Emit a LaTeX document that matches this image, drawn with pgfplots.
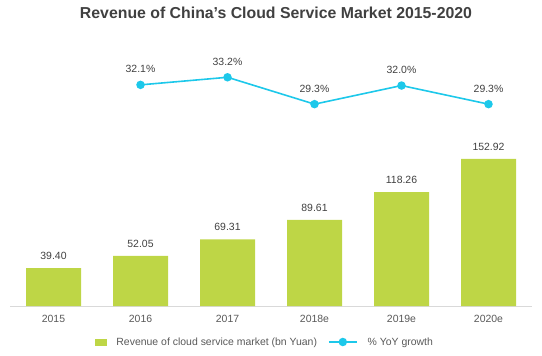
\documentclass[border=0pt]{standalone}
\usepackage{fontspec}
\setmainfont{Liberation Sans}
\usepackage{pgfplots}
\pgfplotsset{compat=1.18}
\definecolor{barc}{HTML}{BED646}
\definecolor{linec}{HTML}{1DC8EA}
\definecolor{txt}{HTML}{404040}
\definecolor{tickc}{HTML}{595959}
\definecolor{basec}{HTML}{D9D9D9}
\pgfplotsset{
  barlegend/.style={legend image code/.code={\fill[barc] (0bp,-2.8bp) rectangle (11bp,2.8bp);}},
  linelegend/.style={legend image code/.code={\draw[##1, mark repeat=2, mark phase=2] plot coordinates {(0bp,0bp) (14bp,0bp) (28bp,0bp)};}},
}
\begin{document}
\begin{tikzpicture}[x=1bp,y=1bp]
\useasboundingbox (0,0) rectangle (542,355);
\node[font=\bfseries\fontsize{15.9}{18}\selectfont, text=txt] at (276,342.5) {Revenue of China’s Cloud Service Market 2015-2020};
\begin{axis}[
  at={(10bp,49bp)}, anchor=south west, scale only axis,
  width=522bp, height=256bp,
  xmin=-0.5, xmax=5.5, ymin=0, ymax=266.1,
  clip=false,
  axis y line=none, axis x line*=bottom,
  x axis line style={draw=basec, line width=1bp},
  xtick={0,1,2,3,4,5},
  xticklabels={2015,2016,2017,2018e,2019e,2020e},
  major tick length=0pt,
  /pgf/number format/assume math mode=true,
  xticklabel style={font=\fontsize{10.5}{12}\selectfont, text=tickc, anchor=center, yshift=-13bp},
]
\addplot[ybar, bar width=55bp, fill=barc, draw=none,
  nodes near coords, point meta=explicit symbolic,
  nodes near coords style={anchor=center, yshift=12bp, font=\fontsize{10.5}{12}\selectfont, text=txt}]
  coordinates {(0,39.40)[39.40] (1,52.05)[52.05] (2,69.31)[69.31] (3,89.61)[89.61] (4,118.26)[118.26] (5,152.92)[152.92]};
\end{axis}
\begin{axis}[
  at={(10bp,49bp)}, anchor=south west, scale only axis,
  width=522bp, height=256bp,
  xmin=-0.5, xmax=5.5, ymin=0, ymax=37.16,
  clip=false, hide axis,
  legend columns=2,
  legend style={at={(0.4866,-0.1406)}, anchor=center, draw=none, fill=none,
    font=\fontsize{10.5}{12}\selectfont, text=tickc,
    nodes={inner sep=0pt},
    /tikz/every odd column/.append style={column sep=10bp},
    /tikz/every even column/.append style={column sep=11bp}},
]
\addlegendimage{barlegend}
\addlegendentry{Revenue of cloud service market (bn Yuan)}
\addplot[color=linec, line width=1.6bp, mark=*, mark size=3.4bp,
  mark options={fill=linec, draw=linec},
  nodes near coords, point meta=explicit symbolic,
  nodes near coords style={anchor=center, yshift=15.5bp, font=\fontsize{10.5}{12}\selectfont, text=txt},
  linelegend]
  coordinates {(1,32.1)[32.1\%] (2,33.2)[33.2\%] (3,29.3)[29.3\%] (4,32.0)[32.0\%] (5,29.3)[29.3\%]};
\addlegendentry{\% YoY growth}
\end{axis}
\end{tikzpicture}
\end{document}
